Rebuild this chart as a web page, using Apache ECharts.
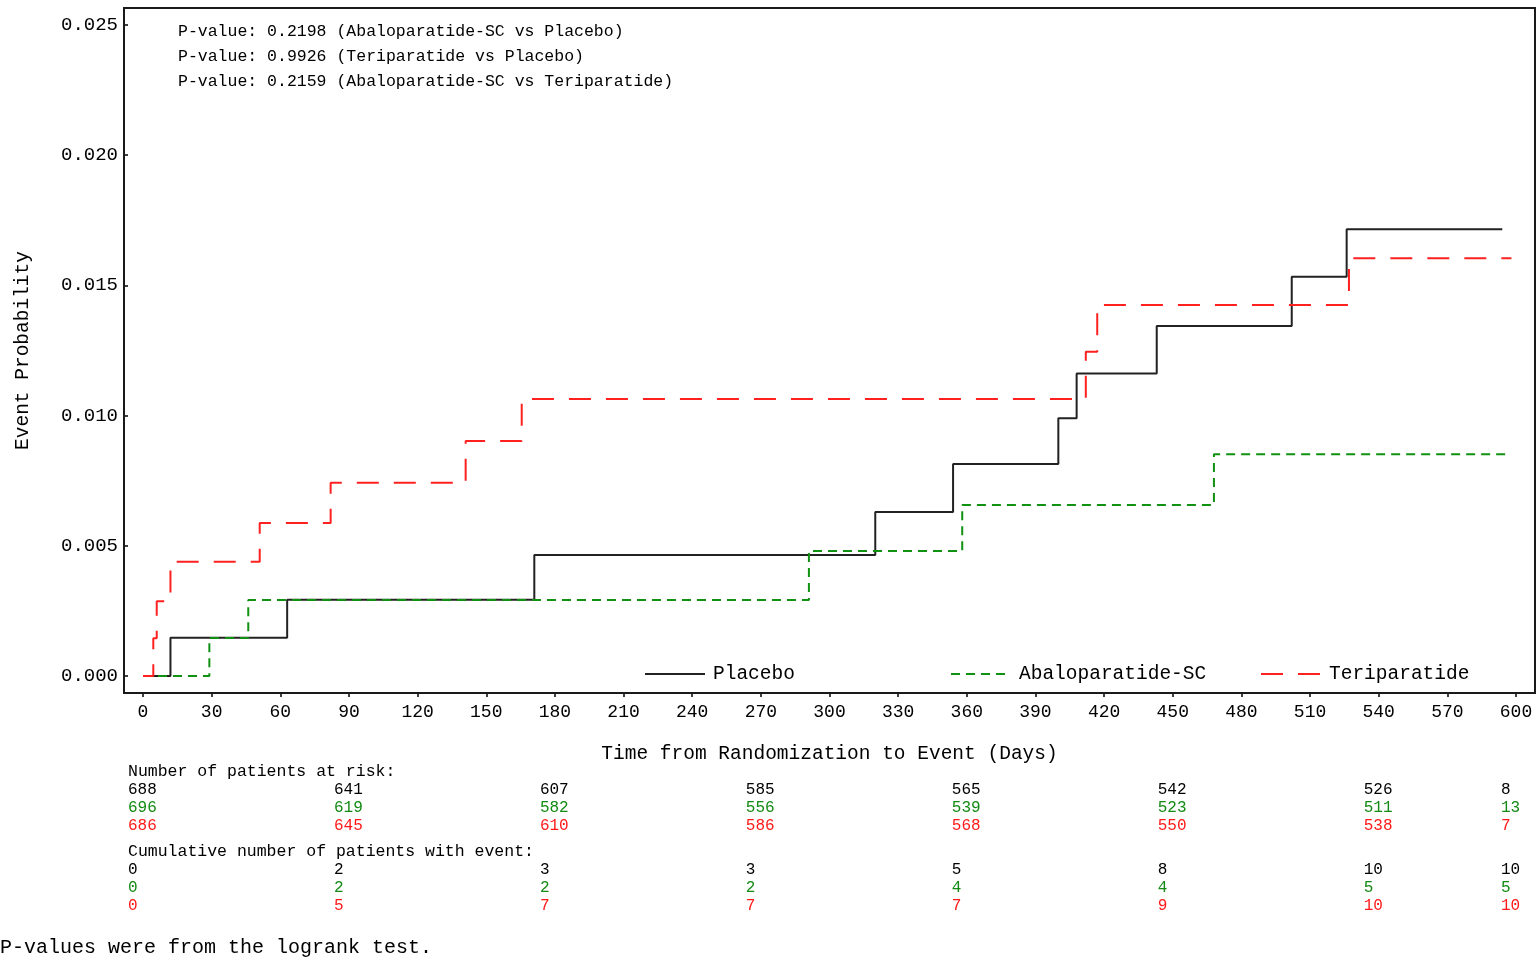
<!DOCTYPE html>
<html>
<head>
<meta charset="utf-8">
<script src="https://cdn.jsdelivr.net/npm/echarts@6/dist/echarts.min.js"></script>
<style>
html,body{margin:0;padding:0;background:#fff;}
#c{width:1537px;height:961px;}
</style>
</head>
<body>
<div id="c"></div>
<script>
// ---- Data ----
const placeboT = [0, 12, 63, 171, 320, 354, 400, 408, 443, 502, 526, 594];
const placeboP = [0, 0.00147, 0.00293, 0.00465, 0.0063, 0.00814, 0.0099, 0.01162, 0.01344, 0.01533, 0.01716, 0.01716];
const abaloT = [0, 29, 46, 291, 358, 468, 596];
const abaloP = [0, 0.00146, 0.00292, 0.0048, 0.00657, 0.00852, 0.00852];
const teriT = [0, 4.5, 6, 12, 51, 82, 141, 165.5, 412, 417, 527, 598];
const teriP = [0, 0.00145, 0.00287, 0.00439, 0.00588, 0.00742, 0.00902, 0.01064, 0.01245, 0.01425, 0.01604, 0.01604];

const seriesNames = ['Placebo', 'Abaloparatide-SC', 'Teriparatide'];

const riskDays = [0, 90, 180, 270, 360, 450, 540, 600];
const riskPlacebo = [688, 641, 607, 585, 565, 542, 526, 8];
const riskAbalo = [696, 619, 582, 556, 539, 523, 511, 13];
const riskTeri = [686, 645, 610, 586, 568, 550, 538, 7];
const cumPlacebo = [0, 2, 3, 3, 5, 8, 10, 10];
const cumAbalo = [0, 2, 2, 2, 4, 4, 5, 5];
const cumTeri = [0, 5, 7, 7, 7, 9, 10, 10];

const pValueLines = [
  'P-value: 0.2198 (Abaloparatide-SC vs Placebo)',
  'P-value: 0.9926 (Teriparatide vs Placebo)',
  'P-value: 0.2159 (Abaloparatide-SC vs Teriparatide)'
];
const riskHeader = 'Number of patients at risk:';
const cumHeader = 'Cumulative number of patients with event:';
const footnote = 'P-values were from the logrank test.';

// ---- Styles ----
const FONT = '"Liberation Mono", "DejaVu Sans Mono", monospace';
const C_BLACK = '#222222';
const C_GREEN = '#119111';
const C_RED = '#ff2020';

const zip = (t, p) => t.map((v, i) => [v, p[i]]);

const chart = echarts.init(document.getElementById('c'), null, {renderer: 'canvas'});

const legendBase = {
  orient: 'horizontal', itemWidth: 60, itemHeight: 14, top: 664, padding: 0,
  itemStyle: {opacity: 0},
  textStyle: {fontFamily: FONT, fontSize: 19.5, color: '#000', padding: [0, 0, 0, 3]},
  selectedMode: false
};

chart.setOption({
  animation: false,
  backgroundColor: '#fff',
  grid: {left: 143, right: 21, top: 25, bottom: 285, containLabel: false},
  legend: [
    Object.assign({}, legendBase, {data: [seriesNames[0]], left: 644}),
    Object.assign({}, legendBase, {data: [seriesNames[1]], left: 950}),
    Object.assign({}, legendBase, {data: [seriesNames[2]], left: 1260})
  ],
  xAxis: {
    type: 'value', min: 0, max: 600, interval: 30, offset: 17,
    axisLine: {show: false, onZero: false},
    axisTick: {show: true, length: 4, lineStyle: {color: '#000', width: 1.5}},
    axisLabel: {fontFamily: FONT, fontSize: 18, color: '#000', margin: 10},
    splitLine: {show: false},
    name: 'Time from Randomization to Event (Days)',
    nameLocation: 'middle', nameGap: 51,
    nameTextStyle: {fontFamily: FONT, fontSize: 19.5, color: '#000'}
  },
  yAxis: {
    type: 'value', min: 0, max: 0.025, interval: 0.005, offset: 19,
    axisLine: {show: false, onZero: false},
    axisTick: {show: true, inside: true, length: 4, lineStyle: {color: '#000', width: 1.5}},
    axisLabel: {fontFamily: FONT, fontSize: 19, color: '#000', margin: 6,
      formatter: v => v.toFixed(3)},
    splitLine: {show: false},
    name: 'Event Probability',
    nameLocation: 'middle', nameGap: 91, nameRotate: 90,
    nameTextStyle: {fontFamily: FONT, fontSize: 19.5, color: '#000'}
  },
  series: [
    {name: seriesNames[0], type: 'line', step: 'end', showSymbol: false, symbol: 'none',
     data: zip(placeboT, placeboP), color: C_BLACK,
     lineStyle: {color: C_BLACK, width: 2, type: 'solid'}, z: 2},
    {name: seriesNames[1], type: 'line', step: 'end', showSymbol: false, symbol: 'none',
     data: zip(abaloT, abaloP), color: C_GREEN,
     lineStyle: {color: C_GREEN, width: 2, type: [9, 6]}, z: 3},
    {name: seriesNames[2], type: 'line', step: 'end', showSymbol: false, symbol: 'none',
     data: zip(teriT, teriP), color: C_RED,
     lineStyle: {color: C_RED, width: 2, type: [22, 15]}, z: 4}
  ]
});

// ---- Frame, annotations and risk table ----
const g = [];
g.push({type: 'rect', shape: {x: 124, y: 8, width: 1411, height: 685},
  style: {fill: 'none', stroke: '#1a1a1a', lineWidth: 2}, z: 10, silent: true});

pValueLines.forEach((t, i) => {
  g.push({type: 'text', x: 178, y: 32 + i * 25,
    style: {text: t, font: '16.5px ' + FONT, fill: '#000', verticalAlign: 'middle', align: 'left'}, silent: true});
});

const colX = riskDays.map(d => chart.convertToPixel({xAxisIndex: 0}, d) - 15);
const tableX = colX[0];
function addText(txt, x, y, color, size) {
  g.push({type: 'text', x: x, y: y,
    style: {text: String(txt), font: size + 'px ' + FONT, fill: color, verticalAlign: 'middle', align: 'left'}, silent: true});
}
addText(riskHeader, tableX, 772, '#000', 16.5);
[[riskPlacebo, '#000', 790], [riskAbalo, '#138a13', 808], [riskTeri, '#ff1a1a', 826]].forEach(([arr, col, y]) => {
  arr.forEach((v, i) => addText(v, colX[i], y, col, 16));
});
addText(cumHeader, tableX, 852, '#000', 16.5);
[[cumPlacebo, '#000', 870], [cumAbalo, '#138a13', 888], [cumTeri, '#ff1a1a', 906]].forEach(([arr, col, y]) => {
  arr.forEach((v, i) => addText(v, colX[i], y, col, 16));
});
addText(footnote, 0, 948, '#000', 20);

chart.setOption({graphic: g});
</script>
</body>
</html>
